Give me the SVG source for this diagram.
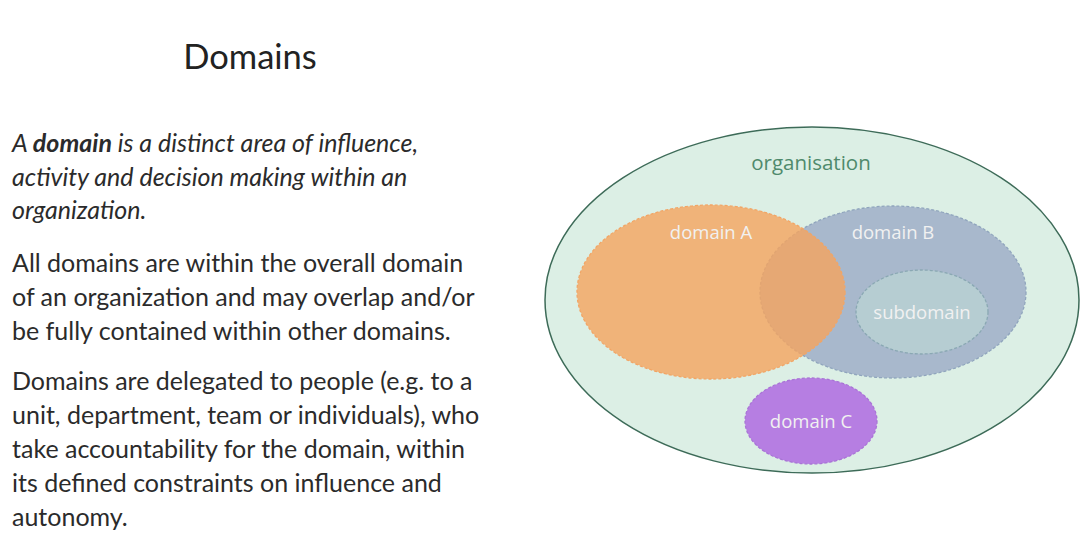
<svg xmlns="http://www.w3.org/2000/svg" width="1080" height="547" viewBox="0 0 1080 547">
<style>
.t{font-family:Lato,"Open Sans","Liberation Sans",sans-serif;font-size:25px;fill:#2b2b2b}
.i{font-style:italic}
.lbl{font-family:"Open Sans","Noto Sans","Liberation Sans",sans-serif;font-size:18.5px;fill:#f1f1f1;text-anchor:middle}
.dash{stroke-width:1.3;stroke-dasharray:3 2}
</style>
<rect width="1080" height="547" fill="#ffffff"/>
<text x="250" y="69" text-anchor="middle" font-family="Lato,'Open Sans','Liberation Sans',sans-serif" font-size="34.5" fill="#222">Domains</text>
<g id="text">
<text class="t i" x="12" y="152">A <tspan font-weight="bold">domain</tspan> is a distinct area of influence,</text>
<text class="t i" x="12" y="186">activity and decision making within an</text>
<text class="t i" x="12" y="219">organization.</text>
<text class="t" x="12" y="272">All domains are within the overall domain</text>
<text class="t" x="12" y="306">of an organization and may overlap and/or</text>
<text class="t" x="12" y="340">be fully contained within other domains.</text>
<text class="t" x="12" y="390">Domains are delegated to people (e.g. to a</text>
<text class="t" x="12" y="424">unit, department, team or individuals), who</text>
<text class="t" x="12" y="458">take accountability for the domain, within</text>
<text class="t" x="12" y="492">its defined constraints on influence and</text>
<text class="t" x="12" y="526">autonomy.</text>
</g>
<g id="organisation">
<ellipse cx="812" cy="300" rx="267" ry="173" fill="#dcefe5" stroke="#3d6b58" stroke-width="1.5"/>
<text x="811" y="170" text-anchor="middle" font-family="'Open Sans','Noto Sans','Liberation Sans',sans-serif" font-size="20.5" fill="#4f8a6c">organisation</text>
</g>
<g id="domainB">
<ellipse class="dash" cx="893" cy="292" rx="133" ry="86" fill="#a8b8cc" stroke="#90a5bd"/>
<text class="lbl" x="893" y="239">domain B</text>
</g>
<g id="subdomain">
<ellipse class="dash" cx="922" cy="312" rx="66" ry="42" fill="#b6cdd2" stroke="#8aa8b3"/>
<text class="lbl" x="922" y="319">subdomain</text>
</g>
<g id="domainA">
<ellipse class="dash" cx="711" cy="292" rx="134" ry="87" fill="#f5a45e" fill-opacity="0.8" stroke="#f2a565"/>
<text class="lbl" x="711" y="239">domain A</text>
</g>
<g id="domainC">
<ellipse class="dash" cx="811" cy="421" rx="66" ry="43" fill="#b67ee2" stroke="#a974d6"/>
<text class="lbl" x="811" y="428">domain C</text>
</g>
<g id="connectors"></g>
</svg>
